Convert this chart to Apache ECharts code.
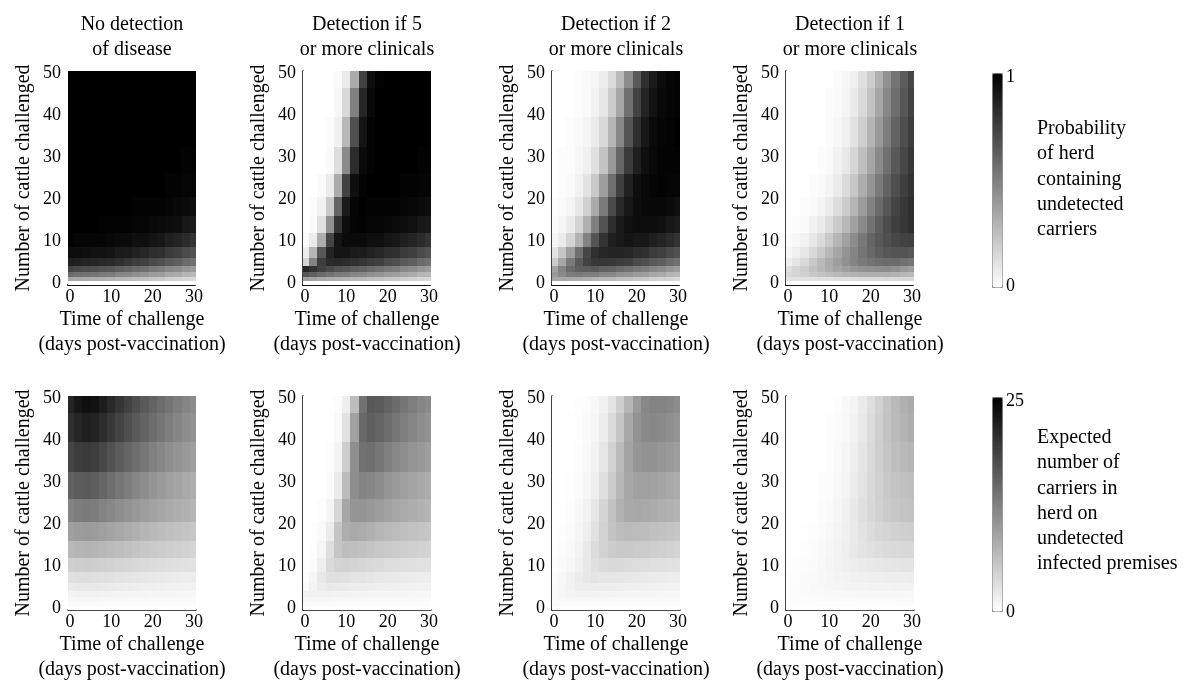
<!DOCTYPE html>
<html>
<head>
<meta charset="utf-8">
<script src="https://cdn.jsdelivr.net/npm/echarts@6/dist/echarts.min.js"></script>
<style>
  html, body { margin: 0; background: #fff; }
  #main { width: 1186px; height: 686px; }
</style>
</head>
<body>
<div id="main"></div>
<script>
// grid of sampled points (rows are cattle, bottom up; columns are days)
var days = [0, 2, 4, 6, 8, 10, 12, 14, 16, 18, 20, 22, 24, 26, 28, 30];
var cattle = [0, 1, 2, 3, 5, 7, 10, 14, 18, 23, 29, 36, 43, 50];
var dayTicks = [0, 10, 20, 30];
var cattleTicks = [0, 10, 20, 30, 40, 50];
var panelTitles = ['No detection\nof disease', 'Detection if 5\nor more clinicals',
  'Detection if 2\nor more clinicals', 'Detection if 1\nor more clinicals'];

// probability of herd containing undetected carriers
var probNone = [
  [0,0,0,0,0,0,0,0,0,0,0,0,0,0,0,0],
  [.35,.34,.33,.32,.31,.30,.28,.27,.25,.24,.22,.21,.19,.18,.16,.15],
  [.58,.56,.55,.54,.52,.51,.48,.47,.44,.42,.39,.38,.34,.33,.29,.28],
  [.73,.71,.70,.69,.67,.66,.63,.61,.58,.56,.53,.51,.47,.45,.41,.39],
  [.88,.87,.86,.85,.84,.83,.81,.79,.76,.75,.71,.69,.65,.63,.58,.56],
  [.95,.95,.94,.93,.93,.92,.90,.89,.87,.85,.82,.81,.77,.75,.71,.68],
  [.99,.98,.98,.98,.98,.97,.96,.96,.94,.94,.92,.91,.88,.86,.83,.80],
  [1,1,1,1,.99,.99,.99,.99,.98,.98,.97,.96,.95,.94,.91,.90],
  [1,1,1,1,1,1,1,1,.99,.99,.99,.99,.98,.97,.96,.95],
  [1,1,1,1,1,1,1,1,1,1,1,1,.99,.99,.98,.98],
  [1,1,1,1,1,1,1,1,1,1,1,1,1,1,.99,.99],
  [1,1,1,1,1,1,1,1,1,1,1,1,1,1,1,1],
  [1,1,1,1,1,1,1,1,1,1,1,1,1,1,1,1],
  [1,1,1,1,1,1,1,1,1,1,1,1,1,1,1,1]
];
var probDet5 = [
  [0,0,0,0,0,0,0,0,0,0,0,0,0,0,0,0],
  [.38,.36,.34,.32,.31,.30,.28,.27,.25,.24,.22,.21,.19,.18,.16,.15],
  [.66,.62,.58,.55,.52,.51,.48,.47,.44,.42,.39,.38,.34,.33,.29,.28],
  [.85,.80,.75,.71,.68,.66,.63,.61,.58,.56,.53,.51,.47,.45,.41,.39],
  [.17,.49,.76,.83,.84,.83,.81,.79,.76,.75,.71,.69,.65,.63,.58,.56],
  [.07,.29,.66,.86,.92,.92,.90,.89,.87,.85,.82,.81,.77,.75,.71,.68],
  [.01,.08,.32,.73,.92,.96,.96,.96,.94,.94,.92,.91,.88,.86,.83,.80],
  [0,.02,.12,.44,.80,.95,.98,.99,.98,.98,.97,.96,.95,.94,.91,.90],
  [0,.01,.05,.21,.61,.90,.98,1,.99,.99,.99,.99,.98,.97,.96,.95],
  [0,0,.02,.08,.33,.74,.94,.99,1,1,1,1,.99,.99,.98,.98],
  [0,0,0,.02,.13,.46,.83,.96,.99,1,1,1,1,1,.99,.99],
  [0,0,0,.01,.06,.28,.69,.92,.99,1,1,1,1,1,1,1],
  [0,0,0,0,.03,.15,.50,.85,.97,1,1,1,1,1,1,1],
  [0,0,0,0,.02,.08,.33,.74,.94,.99,1,1,1,1,1,1]
];
var probDet2 = [
  [0,0,0,0,0,0,0,0,0,0,0,0,0,0,0,0],
  [.35,.34,.33,.32,.31,.30,.28,.27,.25,.24,.22,.21,.19,.18,.16,.15],
  [.40,.46,.51,.52,.51,.51,.48,.47,.44,.42,.39,.38,.34,.33,.29,.28],
  [.36,.49,.58,.63,.64,.65,.62,.61,.58,.56,.53,.51,.47,.45,.41,.39],
  [.20,.35,.52,.65,.74,.78,.79,.78,.76,.75,.71,.69,.65,.63,.58,.56],
  [.11,.22,.38,.56,.72,.81,.85,.86,.86,.85,.82,.81,.77,.75,.71,.68],
  [.04,.08,.17,.30,.49,.67,.80,.88,.90,.92,.91,.91,.88,.86,.83,.80],
  [.02,.04,.08,.17,.31,.50,.68,.82,.90,.94,.95,.95,.95,.94,.91,.90],
  [.01,.02,.04,.09,.18,.33,.52,.71,.84,.91,.95,.97,.97,.97,.96,.95],
  [0,.01,.02,.05,.11,.21,.38,.57,.75,.87,.94,.97,.98,.99,.98,.98],
  [0,.01,.01,.03,.06,.12,.23,.40,.60,.77,.88,.94,.97,.99,.99,.99],
  [0,0,.01,.02,.04,.08,.15,.29,.47,.67,.82,.91,.96,.98,.99,1],
  [0,0,0,.01,.02,.05,.10,.20,.35,.56,.74,.86,.93,.97,.98,.99],
  [0,0,0,.01,.02,.03,.07,.14,.27,.45,.65,.81,.90,.95,.98,.99]
];
var probDet1 = [
  [0,0,0,0,0,0,0,0,0,0,0,0,0,0,0,0],
  [.12,.12,.12,.12,.12,.12,.13,.13,.13,.14,.14,.14,.15,.15,.15,.15],
  [.15,.17,.19,.21,.23,.25,.27,.29,.30,.31,.31,.31,.31,.30,.28,.27],
  [.12,.16,.20,.24,.28,.32,.35,.38,.41,.43,.44,.45,.45,.43,.40,.38],
  [.06,.10,.15,.21,.27,.33,.38,.43,.48,.52,.55,.57,.58,.58,.56,.54],
  [.03,.06,.10,.15,.21,.28,.35,.42,.48,.54,.59,.63,.66,.67,.67,.66],
  [.01,.03,.05,.09,.14,.21,.29,.37,.45,.53,.60,.65,.69,.72,.74,.75],
  [0,.01,.02,.05,.08,.13,.20,.28,.37,.46,.55,.63,.70,.75,.79,.82],
  [0,0,.01,.02,.04,.08,.13,.20,.29,.39,.49,.58,.66,.73,.78,.82],
  [0,0,0,.01,.02,.04,.08,.14,.22,.32,.42,.52,.61,.69,.75,.80],
  [0,0,0,0,.01,.02,.05,.09,.16,.25,.35,.46,.56,.65,.72,.78],
  [0,0,0,0,0,.01,.03,.06,.11,.19,.29,.40,.51,.61,.69,.76],
  [0,0,0,0,0,.01,.02,.04,.08,.15,.24,.35,.47,.57,.66,.74],
  [0,0,0,0,0,0,.01,.03,.06,.12,.20,.31,.43,.54,.64,.72]
];

// expected number of carriers in herd on undetected infected premises
var carriersNone = [
  [0,0,0,0,0,0,0,0,0,0,0,0,0,0,0,0],
  [.4,.4,.4,.4,.4,.4,.35,.35,.35,.3,.3,.3,.3,.25,.25,.25],
  [.8,.85,.85,.85,.8,.8,.75,.7,.7,.65,.6,.6,.55,.55,.5,.5],
  [1.2,1.3,1.3,1.3,1.2,1.2,1.1,1.1,1.0,1.0,.9,.9,.85,.8,.8,.75],
  [2.1,2.2,2.2,2.2,2.1,2.0,1.9,1.8,1.7,1.6,1.6,1.5,1.4,1.4,1.3,1.3],
  [3.0,3.1,3.2,3.1,3.0,2.9,2.7,2.6,2.5,2.3,2.2,2.1,2.0,1.9,1.8,1.8],
  [4.6,4.8,4.9,4.8,4.6,4.4,4.2,4.0,3.8,3.6,3.4,3.3,3.1,3.0,2.9,2.8],
  [7.0,7.3,7.4,7.3,7.0,6.7,6.4,6.1,5.8,5.5,5.2,5.0,4.8,4.6,4.4,4.2],
  [9.3,9.7,9.8,9.7,9.3,8.9,8.5,8.1,7.7,7.3,6.9,6.6,6.3,6.0,5.8,5.6],
  [12.2,12.7,12.9,12.7,12.2,11.7,11.1,10.6,10.1,9.6,9.1,8.7,8.3,7.9,7.6,7.3],
  [15.4,16.0,16.2,15.8,15.0,14.2,13.4,12.6,11.9,11.2,10.5,9.9,9.4,8.9,8.4,8.0],
  [18.2,19.0,19.3,18.9,18.0,17.0,16.0,15.1,14.2,13.3,12.5,11.8,11.1,10.5,10.0,9.5],
  [20.4,21.5,22.0,21.6,20.6,19.5,18.4,17.3,16.2,15.2,14.3,13.4,12.6,11.9,11.2,10.7],
  [21.5,22.8,23.5,23.2,22.2,21.0,19.8,18.6,17.4,16.3,15.3,14.4,13.5,12.7,12.0,11.4]
];
var carriersDet5 = [
  [0,0,0,0,0,0,0,0,0,0,0,0,0,0,0,0],
  [.4,.4,.4,.4,.4,.4,.35,.35,.35,.3,.3,.3,.3,.25,.25,.25],
  [.8,.85,.85,.85,.8,.8,.75,.7,.7,.65,.6,.6,.55,.55,.5,.5],
  [1.2,1.3,1.3,1.3,1.2,1.2,1.1,1.1,1.0,1.0,.9,.9,.85,.8,.8,.75],
  [.4,1.2,1.9,2.2,2.1,2.0,1.9,1.8,1.7,1.6,1.6,1.5,1.4,1.4,1.3,1.3],
  [.2,.9,2.2,2.9,3.0,2.9,2.7,2.6,2.5,2.3,2.2,2.1,2.0,1.9,1.8,1.8],
  [.1,.4,1.6,3.6,4.3,4.4,4.2,4.0,3.8,3.6,3.4,3.3,3.1,3.0,2.9,2.8],
  [0,.2,.9,3.2,5.7,6.4,6.3,6.1,5.8,5.5,5.2,5.0,4.8,4.6,4.4,4.2],
  [0,.1,.5,2.0,5.7,8.0,8.3,8.1,7.7,7.3,6.9,6.6,6.3,6.0,5.8,5.6],
  [0,0,.2,1.0,4.0,8.7,10.4,10.5,10.1,9.6,9.1,8.7,8.3,7.9,7.6,7.3],
  [0,0,0,.4,2.0,6.5,11.1,12.1,11.8,11.2,10.5,9.9,9.4,8.9,8.4,8.0],
  [0,0,0,.2,1.1,4.8,11.0,13.9,14.1,13.3,12.5,11.8,11.1,10.5,10.0,9.5],
  [0,0,0,0,.6,2.9,9.2,14.7,15.7,15.2,14.3,13.4,12.6,11.9,11.2,10.7],
  [0,0,0,0,.3,1.7,6.5,13.8,16.4,16.1,15.3,14.4,13.5,12.7,12.0,11.4]
];
var carriersDet2 = [
  [0,0,0,0,0,0,0,0,0,0,0,0,0,0,0,0],
  [.4,.4,.4,.4,.4,.4,.35,.35,.35,.3,.3,.3,.3,.25,.25,.25],
  [.55,.7,.8,.8,.8,.8,.75,.7,.7,.65,.6,.6,.55,.55,.5,.5],
  [.6,.9,1.1,1.2,1.15,1.2,1.1,1.1,1.0,1.0,.9,.9,.85,.8,.8,.75],
  [.5,.9,1.3,1.7,1.8,1.9,1.8,1.8,1.7,1.6,1.6,1.5,1.4,1.4,1.3,1.3],
  [.4,.7,1.3,1.9,2.3,2.6,2.5,2.5,2.5,2.3,2.2,2.1,2.0,1.9,1.8,1.8],
  [.2,.4,.8,1.5,2.3,3.0,3.5,3.7,3.6,3.5,3.4,3.3,3.1,3.0,2.9,2.8],
  [.1,.3,.6,1.2,2.2,3.4,4.4,5.1,5.3,5.3,5.1,5.0,4.8,4.6,4.4,4.2],
  [.1,.2,.4,.9,1.7,2.9,4.4,5.8,6.5,6.7,6.6,6.5,6.2,6.0,5.8,5.6],
  [.1,.1,.3,.7,1.3,2.5,4.2,6.0,7.6,8.4,8.6,8.4,8.2,7.9,7.6,7.3],
  [0,.1,.2,.4,.9,1.7,3.1,5.0,7.1,8.6,9.2,9.3,9.1,8.8,8.4,8.0],
  [0,.1,.1,.3,.6,1.3,2.4,4.4,6.7,8.9,10.3,10.7,10.7,10.3,9.9,9.5],
  [0,0,.1,.2,.5,.9,1.8,3.5,5.7,8.5,10.6,11.5,11.7,11.5,11.0,10.6],
  [0,0,0,.2,.3,.7,1.4,2.6,4.7,7.3,9.9,11.7,12.2,12.1,11.8,11.3]
];
var carriersDet1 = [
  [0,0,0,0,0,0,0,0,0,0,0,0,0,0,0,0],
  [.15,.15,.15,.15,.15,.15,.15,.15,.2,.2,.2,.2,.2,.2,.25,.25],
  [.2,.25,.3,.33,.35,.39,.42,.43,.45,.45,.45,.45,.45,.45,.45,.45],
  [.2,.3,.4,.45,.5,.6,.6,.7,.7,.75,.75,.75,.75,.75,.75,.7],
  [.15,.25,.4,.55,.7,.8,.9,1.0,1.1,1.1,1.2,1.2,1.2,1.25,1.25,1.25],
  [.1,.2,.35,.5,.7,.9,1.05,1.2,1.4,1.5,1.6,1.6,1.7,1.7,1.7,1.75],
  [0,.15,.25,.4,.65,.95,1.3,1.6,1.8,2.0,2.2,2.3,2.4,2.5,2.6,2.6],
  [0,.1,.15,.35,.55,.85,1.3,1.7,2.2,2.6,3.0,3.3,3.6,3.7,3.8,3.8],
  [0,0,.1,.2,.4,.7,1.1,1.6,2.2,2.8,3.4,3.9,4.2,4.5,4.7,4.8],
  [0,0,0,.1,.25,.45,.9,1.5,2.2,3.1,3.8,4.5,5.1,5.5,5.8,6.0],
  [0,0,0,0,.15,.3,.7,1.1,1.9,2.8,3.7,4.6,5.3,5.8,6.1,6.3],
  [0,0,0,0,0,.2,.5,.9,1.6,2.5,3.6,4.7,5.7,6.4,6.9,7.2],
  [0,0,0,0,0,.2,.4,.7,1.3,2.3,3.4,4.7,5.9,6.8,7.4,7.9],
  [0,0,0,0,0,0,.2,.6,1.0,2.0,3.1,4.5,5.8,6.9,7.7,8.2]
];

var panels = [probNone, probDet5, probDet2, probDet1,
  carriersNone, carriersDet5, carriersDet2, carriersDet1];

var FONT = '"Liberation Serif", "Times New Roman", serif';
var colLeft = [68, 303, 552, 786];
var rowTop = [71, 396];
var plotW = 128, plotH = 214;

// cell boundaries halfway between neighbouring samples
function edges(arr, lo, hi) {
  return arr.map(function (v, i) {
    var a = i === 0 ? lo : (arr[i - 1] + v) / 2;
    var b = i === arr.length - 1 ? hi : (v + arr[i + 1]) / 2;
    return [a, b];
  });
}
var dayEdges = edges(days, -0.5, 30.5);
var cattleEdges = edges(cattle, -0.5, 50.5);

function cells(table) {
  var out = [];
  table.forEach(function (row, j) {
    row.forEach(function (v, i) {
      out.push([days[i], cattle[j], v,
        dayEdges[i][0], dayEdges[i][1], cattleEdges[j][0], cattleEdges[j][1]]);
    });
  });
  return out;
}

// snap to whole pixels so neighbouring cells meet without seams
function renderCell(params, api) {
  var p0 = api.coord([api.value(3), api.value(6)]);
  var p1 = api.coord([api.value(4), api.value(5)]);
  var x0 = Math.round(p0[0]), y0 = Math.round(p0[1]);
  var x1 = Math.round(p1[0]), y1 = Math.round(p1[1]);
  return {
    type: 'rect',
    shape: { x: x0, y: y0, width: x1 - x0, height: y1 - y0 },
    style: { fill: api.visual('color') }
  };
}

var grids = [], xAxes = [], yAxes = [], series = [], graphics = [];

panels.forEach(function (table, k) {
  var r = Math.floor(k / 4), c = k % 4;
  grids.push({ left: colLeft[c], top: rowTop[r], width: plotW, height: plotH });
  xAxes.push({
    gridIndex: k, type: 'value', min: -0.5, max: 30.5,
    axisLine: { show: true, onZero: false,
      lineStyle: { color: '#111', width: r === 0 ? 2 : 1.5, type: r === 0 ? [1, 1] : 'solid' } },
    axisTick: { show: true, inside: true, length: 3, customValues: [10, 20],
      lineStyle: { color: '#999' } },
    axisLabel: { customValues: dayTicks, fontFamily: FONT, fontSize: 18, color: '#000', margin: 3 },
    splitLine: { show: false },
    name: 'Time of challenge\n(days post-vaccination)',
    nameLocation: 'middle', nameGap: 15,
    nameTextStyle: { fontFamily: FONT, fontSize: 20, lineHeight: 25, color: '#000' }
  });
  yAxes.push({
    gridIndex: k, type: 'value', min: -0.5, max: 50.5,
    axisLine: { show: c > 0, onZero: false, lineStyle: { color: '#000', width: 1.5 } },
    axisTick: { show: false },
    axisLabel: { customValues: cattleTicks, fontFamily: FONT, fontSize: 18, color: '#000', margin: 7 },
    splitLine: { show: false },
    name: 'Number of cattle challenged',
    nameLocation: 'middle', nameGap: 34,
    nameTextStyle: { fontFamily: FONT, fontSize: 20, color: '#000' }
  });
  series.push({
    type: 'custom', xAxisIndex: k, yAxisIndex: k,
    renderItem: renderCell, clip: true, silent: true,
    encode: { x: 0, y: 1 },
    data: cells(table)
  });
  if (r === 0) {
    graphics.push({
      type: 'text', x: colLeft[c] + plotW / 2, y: 12.5,
      style: { text: panelTitles[c], font: '20px ' + FONT, fill: '#000',
        textAlign: 'center', textVerticalAlign: 'top', lineHeight: 25 }
    });
  }
});

function label(text, x, y) {
  return { type: 'text', x: x, y: y,
    style: { text: text, font: '18px ' + FONT, fill: '#000', textAlign: 'left', textVerticalAlign: 'middle' } };
}
function block(text, x, y) {
  return { type: 'text', x: x, y: y,
    style: { text: text, font: '20px ' + FONT, fill: '#000', textAlign: 'left',
      textVerticalAlign: 'top', lineHeight: 25.3 } };
}
graphics.push(label('1', 1006, 77), label('0', 1006, 286), label('25', 1006, 401), label('0', 1006, 612));
graphics.push(block('Probability\nof herd\ncontaining\nundetected\ncarriers', 1037, 116));
graphics.push(block('Expected\nnumber of\ncarriers in\nherd on\nundetected\ninfected premises', 1037, 425));

var chart = echarts.init(document.getElementById('main'));
chart.setOption({
  animation: false,
  backgroundColor: '#fff',
  grid: grids,
  xAxis: xAxes,
  yAxis: yAxes,
  visualMap: [{
    type: 'continuous', seriesIndex: [0, 1, 2, 3], dimension: 2, min: 0, max: 1,
    inRange: { color: ['#ffffff', '#000000'] },
    left: 992, top: 73, itemWidth: 10, itemHeight: 214,
    calculable: false, hoverLink: false, padding: 0,
    borderColor: '#888', borderWidth: 1
  }, {
    type: 'continuous', seriesIndex: [4, 5, 6, 7], dimension: 2, min: 0, max: 25,
    inRange: { color: ['#ffffff', '#000000'] },
    left: 992, top: 397, itemWidth: 10, itemHeight: 214,
    calculable: false, hoverLink: false, padding: 0,
    borderColor: '#888', borderWidth: 1
  }],
  graphic: graphics,
  series: series
});
</script>
</body>
</html>
